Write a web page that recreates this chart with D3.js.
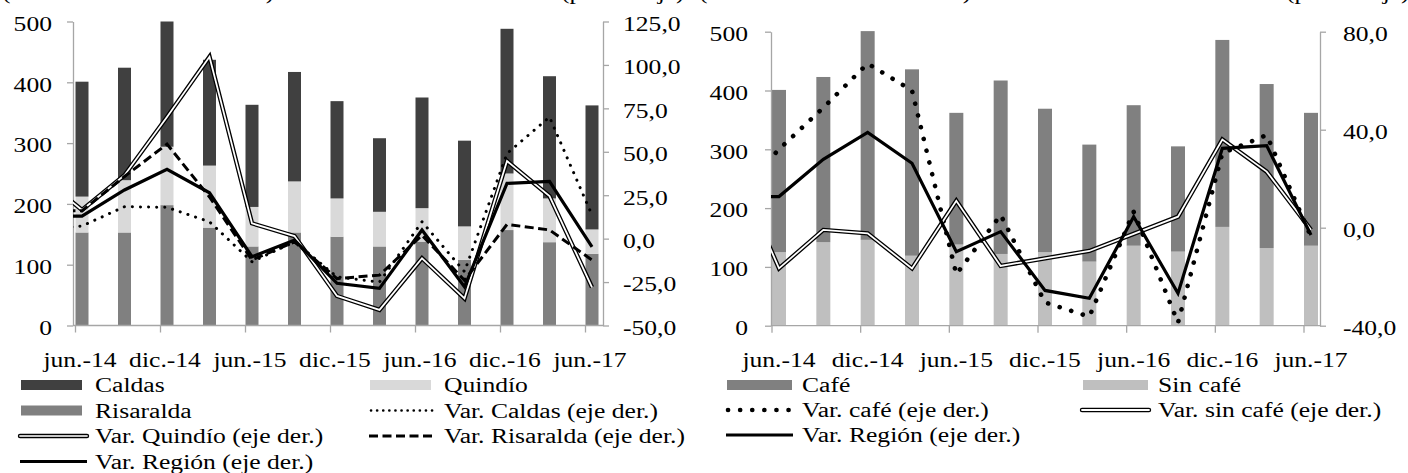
<!DOCTYPE html>
<html><head><meta charset="utf-8">
<script src="https://cdn.jsdelivr.net/npm/d3@7"></script>
<style>
html,body{margin:0;padding:0;background:#fff;}
svg{display:block;font-family:"Liberation Serif","Times New Roman",serif;}
</style>
</head><body>
<svg id="c" width="1408" height="473"></svg>
<script>
// ---------------- DATA ----------------
const categories = ["jun.-14","sep.-14","dic.-14","mar.-15","jun.-15","sep.-15","dic.-15","mar.-16","jun.-16","sep.-16","dic.-16","mar.-17","jun.-17"];
const shownLabels = ["jun.-14","dic.-14","jun.-15","dic.-15","jun.-16","dic.-16","jun.-17"];

// Left panel: by department (left axis, stacked bars)
const risaralda = [153,153,198,161,130,153,146,130,138,108,157,137,118];
const quindio   = [59, 86, 96, 102,65, 84, 63, 57, 55, 55, 93, 72, 40];
const caldas    = [189,185,206,174,168,180,160,121,182,141,238,201,204];
// growth rates (right axis, %)
const varCaldas    = [7.3,18.4,18,9.7,-13.3,-1.8,-22,-25,9.7,-19,49,70,13.6];
const varQuindio   = [16.5,36.5,70,104.7,8.8,1.5,-33,-41,-11.3,-34.4,44.7,24.5,-28];
const varRisaralda = [16,35.8,54.4,24,-12.3,-1.8,-23,-21,2,-24,8.2,5,-12.3];
const varRegionA   = [13,28,39.9,26.4,-10.4,-0.8,-25.7,-28.6,5,-27.7,31.8,33,-4.7];
// value one quarter before the first category (mar.-14): stub visible at the axis
const priorA = {caldas: 5, quindio: 36.6, risaralda: 16, region: 13};

// Right panel: coffee / non-coffee
const sinCafe = [125,142,146,119,138,122,125,109,136,126,168,132,136];
const cafe    = [276,281,355,317,224,295,244,199,239,179,318,279,226];
const varCafe    = [32,49,67,56,-19,5.2,-30.5,-36.3,6.5,-38.8,30.4,37.8,-3.7];
const varSinCafe = [-16.6,-0.9,-2.3,-16.6,11,-15.6,-12.5,-9.5,-2.5,4.5,36,22.9,-0.9];
const varRegionB = [12.7,27.9,38.9,26.3,-9.8,-1.6,-25.6,-28.8,4.5,-26.8,32.4,33.5,-3];
const priorB = {cafe: 12.4, sinCafe: 24.9, region: 12.7};

const leftTicks   = [0,100,200,300,400,500];
const rightTicksA = [-50,-25,0,25,50,75,100,125];
const rightTicksB = [-40,0,40,80];

const leftTitle  = "(millones de dólares FOB)";
const rightTitle = "(porcentaje)";

// ---------------- DRAW ----------------
const SX = 1.28, FS = 20, AX = "#a6a6a6";
const svg = d3.select("#c");
const fmt = v => v.toFixed(1).replace(".", ",");

function label(g, x, y, s, anchor) {
  return g.append("text")
    .attr("transform", `translate(${x},${y}) scale(${SX},1)`)
    .attr("text-anchor", anchor || "start")
    .attr("font-size", FS).attr("fill", "#000").text(s);
}

const styles = {
  dotS:  {stroke:"#000", w:3, dash:"0.1,8", cap:"round"},
  dotSLeg: {stroke:"#000", w:2.6, dash:"0.1,6", cap:"round"},
  dotL:  {stroke:"#000", w:4.6, dash:"0.1,12", cap:"round"},
  dash:  {stroke:"#000", w:3, dash:"9,4.5", cap:"butt"},
  solid: {stroke:"#000", w:3.2, dash:null, cap:"butt"},
};

function strokePath(g, d, st, join) {
  g.append("path").attr("d", d).attr("fill", "none")
    .attr("stroke", st.stroke).attr("stroke-width", st.w)
    .attr("stroke-dasharray", st.dash).attr("stroke-linecap", st.cap)
    .attr("stroke-linejoin", join || "miter");
}
function doublePath(g, d, inner, cap) {
  g.append("path").attr("d", d).attr("fill","none").attr("stroke","#000")
    .attr("stroke-width",4.4).attr("stroke-linejoin","miter").attr("stroke-linecap",cap||"butt");
  g.append("path").attr("d", d).attr("fill","none").attr("stroke",inner)
    .attr("stroke-width",1.8).attr("stroke-linejoin","miter").attr("stroke-linecap",cap||"butt");
}

function panel(o, id) {
  const g = svg.append("g");
  const n = categories.length;
  const x = d3.scaleLinear().domain([0, n - 1]).range([o.xFirst, o.xLast]);
  const yL = d3.scaleLinear().domain([0, 500]).range([o.bottom, o.top]);
  const yR = d3.scaleLinear().domain(o.rDomain).range([o.bottom, o.top]);

  // stacked bars
  const rows = categories.map((c, i) => { const r = {i}; o.bars.forEach(b => r[b.key] = b.values[i]); return r; });
  const layers = d3.stack().keys(o.bars.map(b => b.key))(rows);
  layers.forEach((layer, k) => {
    g.append("g").attr("fill", o.bars[k].color).selectAll("rect").data(layer).join("rect")
      .attr("x", d => x(d.data.i) - o.barW / 2).attr("width", o.barW)
      .attr("y", d => yL(d[1])).attr("height", d => yL(d[0]) - yL(d[1]));
  });

  // left value axis
  const aL = g.append("g").attr("transform", `translate(${o.axL},0)`)
    .call(d3.axisLeft(yL).tickValues(leftTicks).tickSize(6).tickSizeOuter(0).tickFormat(d3.format("d")));
  // right value axis
  const aR = g.append("g").attr("transform", `translate(${o.axR},0)`)
    .call(d3.axisRight(yR).tickValues(o.rTicks).tickSize(6).tickSizeOuter(0).tickFormat(fmt));
  [aL, aR].forEach(a => {
    a.attr("font-family", null).attr("font-size", FS);
    a.selectAll("path,line").attr("stroke", AX).attr("stroke-width", 1.3);
    a.selectAll("text").attr("fill", "#000").attr("dy", "0.44em");
  });
  aL.selectAll("text").attr("x", 0).attr("transform", `translate(${-o.gapL},0) scale(${SX},1)`);
  aR.selectAll("text").attr("x", 0).attr("transform", `translate(${o.gapR},0) scale(${SX},1)`);

  // category axis
  const idx = shownLabels.map(s => categories.indexOf(s));
  g.append("line").attr("x1", o.axL).attr("x2", o.axR).attr("y1", o.bottom).attr("y2", o.bottom)
    .attr("stroke", AX).attr("stroke-width", 1.3);
  g.append("g").selectAll("line").data(idx).join("line")
    .attr("x1", i => x(i) - o.barW / 2).attr("x2", i => x(i) - o.barW / 2)
    .attr("y1", o.bottom).attr("y2", o.bottom + 7).attr("stroke", AX).attr("stroke-width", 1.3);
  idx.forEach(i => label(g, x(i) + o.labDx, o.bottom + 41, categories[i], "middle"));

  // lines
  g.append("clipPath").attr("id", id).append("rect")
    .attr("x", o.axL).attr("y", 0).attr("width", o.axR - o.axL).attr("height", 473);
  const lg = g.append("g").attr("clip-path", `url(#${id})`);
  const line = d3.line().x(d => x(d.i)).y(d => yR(d.v));
  o.lines.forEach(L => {
    const pts = [{i: -1, v: L.prior}].concat(L.values.map((v, i) => ({i, v})));
    const d = line(pts);
    if (L.type === "double") doublePath(lg, d, "#fff");
    else strokePath(lg, d, styles[L.type], L.type.startsWith("dot") ? "round" : "miter");
  });

  // axis titles (only their lower part is inside the picture)
  label(g, o.titleLX, -1, leftTitle, "start");
  label(g, o.titleRX, -1, rightTitle, "start");

  // legend
  o.legend.forEach((it, k) => {
    const col = k % 2, row = Math.floor(k / 2);
    const x0 = o.legX[col], yc = o.legY0 + row * o.legDY;
    if (it.rect) {
      g.append("rect").attr("x", x0 + 1).attr("y", yc - 5).attr("width", o.swW).attr("height", 10).attr("fill", it.rect);
    } else if (it.type === "double") {
      doublePath(g, `M${x0},${yc}H${x0 + o.lnW}`, it.inner || "#fff", "round");
    } else {
      const st = styles[it.type === "dotS" ? "dotSLeg" : it.type];
      strokePath(g, `M${x0 + (it.type.startsWith("dot") ? 2 : 0)},${yc}H${x0 + o.lnW}`, st);
    }
    label(g, x0 + o.txDX, yc + 7, it.label, "start");
  });
}

panel({
  axL: 73, axR: 603, top: 21.5, bottom: 325.5, xFirst: 82, xLast: 592, barW: 13,
  rDomain: [-50, 125], rTicks: rightTicksA, gapL: 21, gapR: 20, labDx: -2,
  bars: [{key:"Risaralda", values:risaralda, color:"#808080"},
         {key:"Quindío", values:quindio, color:"#d9d9d9"},
         {key:"Caldas", values:caldas, color:"#404040"}],
  lines: [{type:"dotS", values:varCaldas, prior:priorA.caldas},
          {type:"double", values:varQuindio, prior:priorA.quindio},
          {type:"dash", values:varRisaralda, prior:priorA.risaralda},
          {type:"solid", values:varRegionA, prior:priorA.region}],
  titleLX: 2, titleRX: 561,
  legX: [20, 369], legY0: 385, legDY: 25.5, swW: 61, lnW: 67, txDX: 75,
  legend: [{label:"Caldas", rect:"#404040"}, {label:"Quindío", rect:"#d9d9d9"},
           {label:"Risaralda", rect:"#808080"}, {label:"Var. Caldas (eje der.)", type:"dotS"},
           {label:"Var. Quindío (eje der.)", type:"double", inner:"#c8c8c8"}, {label:"Var. Risaralda (eje der.)", type:"dash"},
           {label:"Var. Región (eje der.)", type:"solid"}]
}, "clipA");

panel({
  axL: 771, axR: 1320, top: 31.7, bottom: 325.7, xFirst: 779, xLast: 1311, barW: 14,
  rDomain: [-40, 80], rTicks: rightTicksB, gapL: 23, gapR: 23, labDx: 0,
  bars: [{key:"Sin café", values:sinCafe, color:"#bfbfbf"},
         {key:"Café", values:cafe, color:"#808080"}],
  lines: [{type:"dotL", values:varCafe, prior:priorB.cafe},
          {type:"double", values:varSinCafe, prior:priorB.sinCafe},
          {type:"solid", values:varRegionB, prior:priorB.region}],
  titleLX: 699, titleRX: 1286,
  legX: [726, 1082], legY0: 385, legDY: 25, swW: 65, lnW: 67, txDX: 76,
  legend: [{label:"Café", rect:"#808080"}, {label:"Sin café", rect:"#bfbfbf"},
           {label:"Var. café (eje der.)", type:"dotL"}, {label:"Var. sin café (eje der.)", type:"double"},
           {label:"Var. Región (eje der.)", type:"solid"}]
}, "clipB");
</script>
</body></html>
